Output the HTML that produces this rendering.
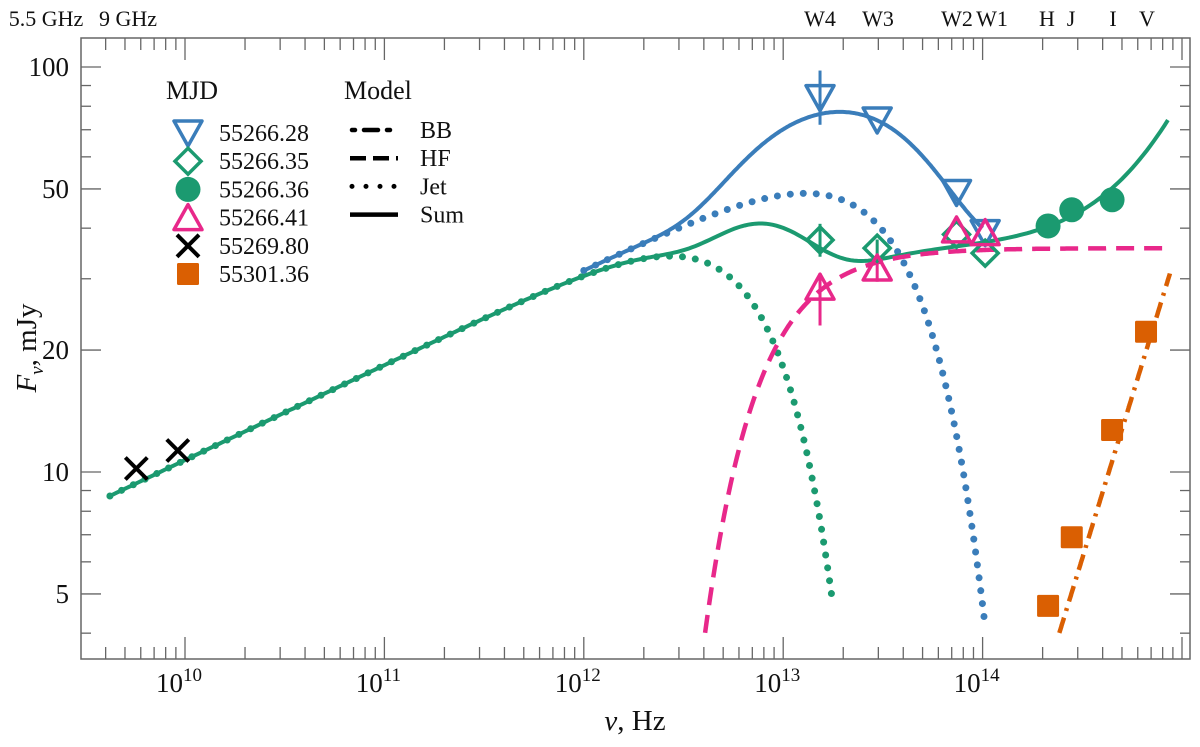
<!DOCTYPE html>
<html><head><meta charset="utf-8"><style>
body{margin:0;background:#fff;}
svg text{font-family:"Liberation Serif",serif;fill:#111;}
</style></head><body>
<svg id="chart" width="1200" height="742" xmlns="http://www.w3.org/2000/svg">
<g id="axes"></g>
<g id="curves"></g>
<g id="points"></g>
<g id="legend"></g>
</svg>
<script>
// data
const blueNu=[1.53e13,2.96e13,7.4e13,1.03e14];
const blueF=[84,74,49,39];
const greenDiaNu=[1.53e13,2.96e13,7.4e13,1.03e14];
const greenDiaF=[37.4,35.7,38.6,34.7];
const greenCircNu=[2.13e14,2.8e14,4.46e14];
const greenCircF=[40.5,44.4,47];
const pinkNu=[1.53e13,2.96e13,7.4e13,1.03e14];
const pinkF=[28.6,31.9,39.6,39];
const crossNu=[5.7e9,9.2e9];
const crossF=[10.2,11.3];
const orangeNu=[2.13e14,2.8e14,4.46e14,6.6e14];
const orangeF=[4.67,6.9,12.7,22.2];
const xTickExp=[10,11,12,13,14];
const yTicks=[5,10,20,50,100];
const topLabels=["5.5 GHz","9 GHz","W4","W3","W2","W1","H","J","I","V"];
const topLabelX=[46,128,820,878,957,992,1047,1071,1113,1147];
// model parameters
const jetF0=[10.7], jetAlpha=[0.235];
const jetGreen=[9.4e12,1.49], jetBlue=[4.6e13,1.41];
const hfParams=[35.7,6.5e12,1.66];
const bbGreen=[4.8,2.13e14,1.5];
const bbOrange=[4.07,2.45e14,1.6];

const L=81,R=1190,T=38,B=659;
const X=nu=>185+(Math.log10(nu)-10)*199.4;
const Y=f=>472-(Math.log10(f)-1)*405;
const NS='http://www.w3.org/2000/svg';
function mk(tag,attrs,parent){const e=document.createElementNS(NS,tag);for(const k in attrs)e.setAttribute(k,attrs[k]);parent.appendChild(e);return e;}
const ax=document.getElementById('axes');
const fr=mk('rect',{x:L,y:T,width:R-L,height:B-T,fill:'none',stroke:'#666','stroke-width':1.5},ax);


for(let e=9;e<=15;e++){for(let m=1;m<10;m++){const nu=m*Math.pow(10,e);const x=X(nu);if(x<L||x>R)continue;const len=m==1?22:12;
 mk('line',{x1:x,y1:B,x2:x,y2:B-len,stroke:'#666','stroke-width':1.3},ax);
 mk('line',{x1:x,y1:T,x2:x,y2:T+len,stroke:'#666','stroke-width':1.3},ax);}}
xTickExp.forEach(e=>{const t=mk('text',{x:X(Math.pow(10,e))-6,y:692,'font-size':27,'text-anchor':'middle'},ax);
 
 
 t.textContent='10';const s=mk('tspan',{dy:-11,'font-size':19},t);s.textContent=e;});
for(let e=0;e<=2;e++){for(let m=1;m<10;m++){const f=m*Math.pow(10,e);const y=Y(f);if(y<T||y>B)continue;const major=[1,2,5].includes(m);const len=major?20:10;
 mk('line',{x1:L,y1:y,x2:L+len,y2:y,stroke:'#666','stroke-width':1.3},ax);
 mk('line',{x1:R,y1:y,x2:R-len,y2:y,stroke:'#666','stroke-width':1.3},ax);}}
yTicks.forEach(v=>{const t=mk('text',{x:L-12,y:Y(v)+9,'font-size':27,'text-anchor':'end'},ax);
 
 
 t.textContent=v;});
topLabels.forEach((s,i)=>{const t=mk('text',{x:topLabelX[i],y:26,'font-size':22,'text-anchor':'middle'},ax);
 
 
 t.textContent=s;});
const xl=mk('text',{x:635,y:730,'font-size':29,'text-anchor':'middle'},ax);


xl.innerHTML='<tspan font-style="italic">ν</tspan>, Hz';
const yl=mk('text',{x:0,y:0,'font-size':29,'text-anchor':'middle',transform:'translate(36,348) rotate(-90)'},ax);


yl.innerHTML='<tspan font-style="italic">F</tspan><tspan font-style="italic" font-size="19" dy="7">ν</tspan><tspan dy="-7">, mJy</tspan>';

const jet=(nu,p)=>jetF0[0]*Math.pow(nu/1e10,jetAlpha[0])*Math.exp(-Math.pow(nu/p[0],p[1]));
const hf=nu=>hfParams[0]*Math.exp(-Math.pow(hfParams[1]/nu,hfParams[2]));
const bb=(nu,p)=>p[0]*Math.pow(nu/p[1],p[2]);
function path(fn,n0,n1,fmin){let d='';const N=300;for(let i=0;i<=N;i++){const ln=Math.log10(n0)+(Math.log10(n1)-Math.log10(n0))*i/N;const nu=Math.pow(10,ln);const f=fn(nu);if(fmin&&f<fmin)continue;d+=(d?'L':'M')+X(nu).toFixed(1)+','+Y(f).toFixed(1);}return d;}
const cv=document.getElementById('curves');
const BLUE='#3a7dba',GREEN='#1b9a70',PINK='#e8288a',ORANGE='#da5f02';
let p;
p=mk('path',{d:path(nu=>jet(nu,jetBlue),1e12,1e15,4.0),fill:'none',stroke:BLUE,'stroke-width':7,'stroke-linecap':'round','stroke-dasharray':'0 13'},cv);


p=mk('path',{d:path(nu=>jet(nu,jetBlue)+hf(nu),1e12,1.0e14),fill:'none',stroke:BLUE,'stroke-width':4},cv);


p=mk('path',{d:path(nu=>jet(nu,jetGreen)+hf(nu)+bb(nu,bbGreen),4.2e9,8.5e14),fill:'none',stroke:GREEN,'stroke-width':4},cv);


p=mk('path',{d:path(nu=>jet(nu,jetGreen),4.2e9,1e15,4.5),fill:'none',stroke:GREEN,'stroke-width':7,'stroke-linecap':'round','stroke-dasharray':'0 13'},cv);


p=mk('path',{d:path(hf,3.5e12,8.9e14,4.0),fill:'none',stroke:PINK,'stroke-width':4.5,'stroke-dasharray':'18 10'},cv);


p=mk('path',{d:path(nu=>bb(nu,bbOrange),2.3e14,8.7e14,4.0),fill:'none',stroke:ORANGE,'stroke-width':4.5,'stroke-dasharray':'16 7 3 7'},cv);



const pt=document.getElementById('points');
function eb(nu,f1,f2,col){mk('line',{x1:X(nu),y1:Y(f1),x2:X(nu),y2:Y(f2),stroke:col,'stroke-width':3},pt);}
eb(blueNu[0],98,72,BLUE);eb(greenDiaNu[0],41,34,GREEN);eb(pinkNu[0],31,23,PINK);eb(pinkNu[1],33,29.5,PINK);eb(greenDiaNu[1],37.5,33.5,GREEN);
function triDown(x,y,c,g){return mk('path',{d:`M${x-14},${y-12}L${x+14},${y-12}L${x},${y+13}Z`,fill:'none',stroke:c,'stroke-width':3.5,'stroke-linejoin':'round'},g);}
function triUp(x,y,c,g){return mk('path',{d:`M${x-14},${y+12}L${x+14},${y+12}L${x},${y-13}Z`,fill:'none',stroke:c,'stroke-width':3.5,'stroke-linejoin':'round'},g);}
function dia(x,y,c,g){return mk('path',{d:`M${x},${y-13}L${x+13},${y}L${x},${y+13}L${x-13},${y}Z`,fill:'none',stroke:c,'stroke-width':3.5},g);}
function circ(x,y,c,g){return mk('circle',{cx:x,cy:y,r:12.5,fill:c},g);}
function cross(x,y,c,g){return mk('path',{d:`M${x-11},${y-11}L${x+11},${y+11}M${x-11},${y+11}L${x+11},${y-11}`,stroke:c,'stroke-width':4},g);}
function sq(x,y,c,g){return mk('rect',{x:x-11,y:y-11,width:22,height:22,rx:1.5,fill:c},g);}
blueNu.forEach((n,i)=>{const e=triDown(X(n),Y(blueF[i]),BLUE,pt);
 
 });
greenDiaNu.forEach((n,i)=>{const e=dia(X(n),Y(greenDiaF[i]),GREEN,pt);
 
 });
greenCircNu.forEach((n,i)=>{const e=circ(X(n),Y(greenCircF[i]),GREEN,pt);
 
 });
pinkNu.forEach((n,i)=>{const e=triUp(X(n),Y(pinkF[i]),PINK,pt);
 
 });
crossNu.forEach((n,i)=>{const e=cross(X(n),Y(crossF[i]),'#000',pt);
 
 });
orangeNu.forEach((n,i)=>{const e=sq(X(n),Y(orangeF[i]),ORANGE,pt);
 
 });

const lg=document.getElementById('legend');
let t=mk('text',{x:166,y:99,'font-size':26},lg);t.textContent='MJD';
t=mk('text',{x:344,y:99,'font-size':26},lg);t.textContent='Model';
const names=['55266.28','55266.35','55266.36','55266.41','55269.80','55301.36'];
const fns=[[triDown,BLUE],[dia,GREEN],[circ,GREEN],[triUp,PINK],[cross,'#000'],[sq,ORANGE]];
names.forEach((s,i)=>{const y=133+i*28.2;const g=mk('g',{},lg);
 
 
 fns[i][0](188,y,fns[i][1],g);
 const tt=mk('text',{x:219,y:y+8,'font-size':24},g);tt.textContent=s;});
const mods=[['BB','3 9 14 9 3 30'],['HF','16 7'],['Jet','0 14'],['Sum','']];
mods.forEach((m,i)=>{const y=130+i*28.2;const g=mk('g',{},lg);
 
 
 const a={x1:350,y1:y,x2:398,y2:y,stroke:'#000','stroke-width':4.5};
 if(m[1]){a['stroke-dasharray']=m[1];}
 if(m[0]==='Jet'){a['stroke-linecap']='round';a['stroke-width']=5;a.x1=352;}
 if(m[0]==='BB'){a['stroke-linecap']='round';a.x1=352;}
 mk('line',a,g);
 const tt=mk('text',{x:420,y:y+8,'font-size':24},g);tt.textContent=m[0];});
</script>
</body></html>
